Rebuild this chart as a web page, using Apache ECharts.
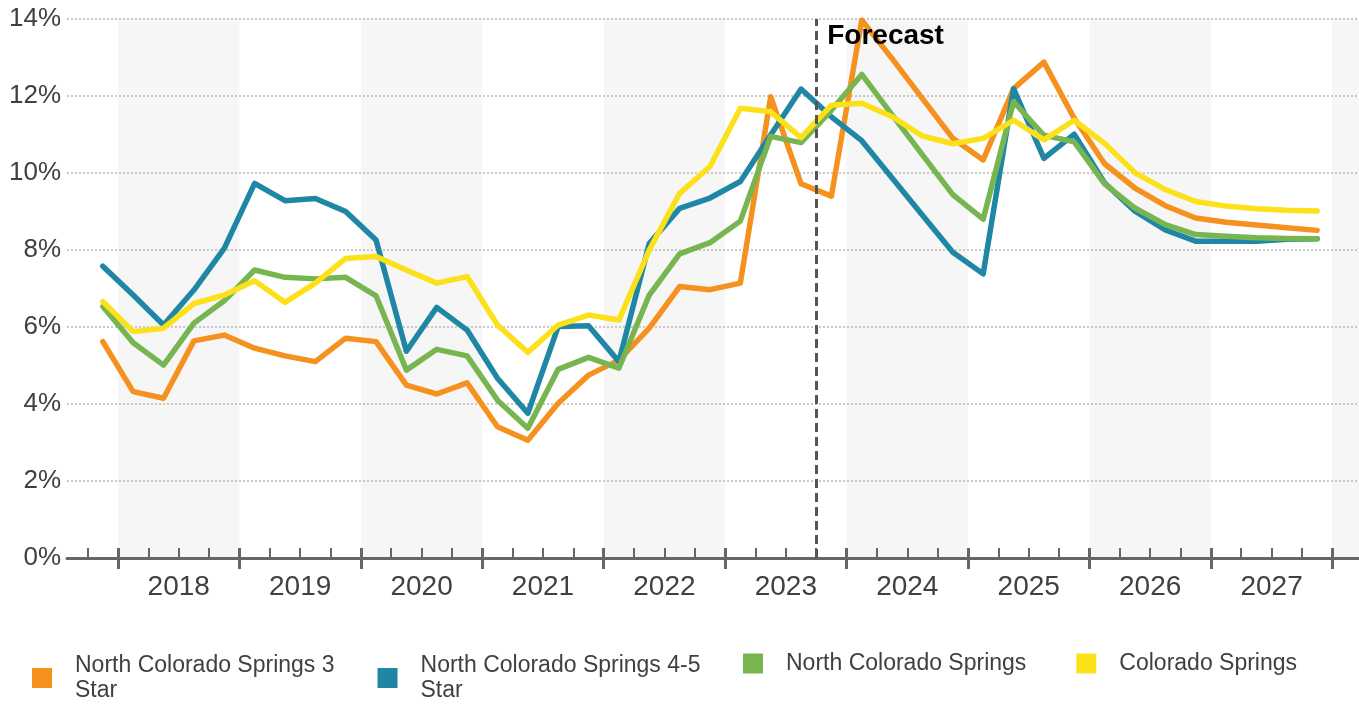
<!DOCTYPE html>
<html>
<head>
<meta charset="utf-8">
<title>Vacancy rate — Colorado Springs</title>
<script src="https://cdn.jsdelivr.net/npm/echarts@6/dist/echarts.min.js"></script>
<style>
  html, body { margin: 0; padding: 0; background: #ffffff; }
  #chart { width: 1359px; height: 704px; }
</style>
</head>
<body>
<div id="chart"></div>
<script>
// Quarterly periods, 2017 Q4 through 2027 Q4
const quarters = [
  '2017 Q4',
  '2018 Q1', '2018 Q2', '2018 Q3', '2018 Q4',
  '2019 Q1', '2019 Q2', '2019 Q3', '2019 Q4',
  '2020 Q1', '2020 Q2', '2020 Q3', '2020 Q4',
  '2021 Q1', '2021 Q2', '2021 Q3', '2021 Q4',
  '2022 Q1', '2022 Q2', '2022 Q3', '2022 Q4',
  '2023 Q1', '2023 Q2', '2023 Q3', '2023 Q4',
  '2024 Q1', '2024 Q2', '2024 Q3', '2024 Q4',
  '2025 Q1', '2025 Q2', '2025 Q3', '2025 Q4',
  '2026 Q1', '2026 Q2', '2026 Q3', '2026 Q4',
  '2027 Q1', '2027 Q2', '2027 Q3', '2027 Q4'
];

// Vacancy rates, percent
const northCS3Star = [
  5.62,
  4.32, 4.15, 5.64, 5.79,
  5.45, 5.25, 5.10, 5.71,
  5.62, 4.49, 4.26, 4.55,
  3.41, 3.06, 4.02, 4.75,
  5.14, 5.97, 7.05, 6.97,
  7.14, 11.98, 9.72, 9.40,
  13.97, 12.97, 11.93, 10.90,
  10.34, 12.19, 12.88, 11.42,
  10.24, 9.61, 9.15, 8.83,
  8.72, 8.65, 8.58, 8.51
];
const northCS45Star = [
  7.58,
  6.83, 6.05, 6.96, 8.04,
  9.73, 9.28, 9.34, 9.00,
  8.26, 5.37, 6.51, 5.92,
  4.67, 3.76, 6.01, 6.03,
  5.10, 8.17, 9.08, 9.35,
  9.78, 10.99, 12.18, 11.46,
  10.84, 9.87, 8.90, 7.94,
  7.38, 12.19, 10.38, 11.01,
  9.74, 9.01, 8.52, 8.23,
  8.23, 8.23, 8.28, 8.29
];
const northCS = [
  6.53,
  5.59, 5.01, 6.10, 6.68,
  7.48, 7.29, 7.25, 7.29,
  6.81, 4.88, 5.42, 5.25,
  4.10, 3.37, 4.90, 5.21,
  4.93, 6.83, 7.90, 8.19,
  8.75, 10.95, 10.79, 11.63,
  12.56, 11.51, 10.47, 9.44,
  8.80, 11.85, 10.98, 10.81,
  9.72, 9.09, 8.66, 8.40,
  8.36, 8.32, 8.30, 8.29
];
const coloradoSprings = [
  6.66,
  5.88, 5.97, 6.61, 6.83,
  7.20, 6.64, 7.14, 7.78,
  7.83, 7.48, 7.14, 7.31,
  6.05, 5.34, 6.05, 6.31,
  6.18, 8.00, 9.47, 10.17,
  11.68, 11.59, 10.92, 11.76,
  11.81, 11.46, 10.96, 10.76,
  10.90, 11.37, 10.86, 11.37,
  10.77, 10.01, 9.57, 9.26,
  9.14, 9.07, 9.03, 9.01
];

const seriesNames = [
  'North Colorado Springs 3 Star',
  'North Colorado Springs 4-5 Star',
  'North Colorado Springs',
  'Colorado Springs'
];
const seriesColors = ['#F5911E', '#1F87A5', '#77B550', '#FCE01A'];

const yearLabels = ['2018', '2019', '2020', '2021', '2022', '2023', '2024', '2025', '2026', '2027'];
const shadedYears = [2018, 2020, 2022, 2024, 2026, 2028];
const forecastStart = 2023.75;   // boundary between 2023 Q3 and 2023 Q4
const forecastLabel = 'Forecast';

// Horizontal extent of the time axis, in years
const xMin = 2017.58;
const xMax = 2028.22;

// Position of a quarter at its midpoint on the time axis
function quarterX(q) {
  const parts = q.split(' Q');
  return Number(parts[0]) + (Number(parts[1]) - 0.5) / 4;
}

// Quarter boundaries (minor ticks) and year boundaries (major ticks)
const quarterBounds = [];
for (let v = 2017.75; v <= 2028.001; v += 0.25) quarterBounds.push(Math.round(v * 100) / 100);
const yearBounds = yearLabels.map(Number).concat([2028]);
const yearCenters = yearLabels.map(y => Number(y) + 0.5);

const FONT = '"Liberation Sans", Arial, sans-serif';
const TEXT = '#404040';
const AXIS = '#666666';

function lineSeries(name, values, color) {
  return {
    name: name,
    type: 'line',
    xAxisIndex: 0,
    data: quarters.map((q, i) => [quarterX(q), values[i]]),
    showSymbol: false,
    symbol: 'circle',
    color: color,
    itemStyle: { color: color },
    lineStyle: { color: color, width: 5.5, cap: 'round', join: 'round' },
    emphasis: { disabled: true },
    silent: true,
    z: 3
  };
}

const baseX = {
  type: 'value',
  position: 'bottom',
  min: xMin,
  max: xMax,
  splitLine: { show: false },
  z: 2.5
};

const option = {
  animation: false,
  grid: { left: 67, right: 0, top: 19, bottom: 146, containLabel: false },
  xAxis: [
    Object.assign({}, baseX, {
      axisLine: { show: true, onZero: false, lineStyle: { color: AXIS, width: 3 } },
      axisTick: { show: true, inside: true, length: 10, customValues: quarterBounds,
                  lineStyle: { color: AXIS, width: 2 } },
      axisLabel: { show: true, customValues: yearCenters, margin: 15,
                   formatter: v => String(Math.floor(v)),
                   fontSize: 28, color: TEXT, fontFamily: FONT }
    }),
    Object.assign({}, baseX, {
      axisLine: { show: false },
      axisTick: { show: true, inside: false, length: 11, customValues: yearBounds,
                  lineStyle: { color: AXIS, width: 3 } },
      axisLabel: { show: false }
    }),
    Object.assign({}, baseX, {
      axisLine: { show: false },
      axisTick: { show: true, inside: true, length: 10, customValues: yearBounds,
                  lineStyle: { color: AXIS, width: 3 } },
      axisLabel: { show: false }
    })
  ],
  yAxis: {
    type: 'value',
    min: 0,
    max: 14,
    interval: 2,
    axisLine: { show: false },
    axisTick: { show: false },
    axisLabel: { formatter: v => v + '%', fontSize: 26, color: TEXT, fontFamily: FONT, margin: 6 },
    splitLine: { show: true, lineStyle: { color: '#b8b8b8', width: 1.5, type: [2, 2] } },
    z: 2.5
  },
  legend: [
    {
      data: seriesNames.slice(0, 2),
      left: 32, top: 653, padding: 0,
      orient: 'horizontal',
      icon: 'rect', itemWidth: 20, itemHeight: 20, itemGap: 43,
      selectedMode: false,
      formatter: name => name.replace(' Star', '\nStar'),
      textStyle: { fontSize: 23, lineHeight: 25, color: TEXT, fontFamily: FONT, padding: [0, 0, 0, 18] }
    },
    {
      data: seriesNames.slice(2),
      left: 743, top: 651, padding: 0,
      orient: 'horizontal',
      icon: 'rect', itemWidth: 20, itemHeight: 20, itemGap: 50,
      selectedMode: false,
      textStyle: { fontSize: 23, lineHeight: 25, color: TEXT, fontFamily: FONT, padding: [0, 0, 0, 18] }
    }
  ],
  series: [
    // alternating year bands behind everything
    {
      type: 'line',
      name: 'bands',
      data: [],
      silent: true,
      z: 1,
      markArea: {
        silent: true,
        z: 1,
        itemStyle: { color: '#F6F6F6' },
        label: { show: false },
        data: shadedYears.map(y => [{ xAxis: y }, { xAxis: Math.min(y + 1, xMax) }])
      }
    },
    lineSeries(seriesNames[0], northCS3Star, seriesColors[0]),
    lineSeries(seriesNames[1], northCS45Star, seriesColors[1]),
    lineSeries(seriesNames[2], northCS, seriesColors[2]),
    Object.assign(lineSeries(seriesNames[3], coloradoSprings, seriesColors[3]), {
      markLine: {
        silent: true,
        z: 6,
        symbol: ['none', 'none'],
        label: { show: false },
        lineStyle: { color: '#555555', width: 3, type: [9, 5] },
        data: [{ xAxis: forecastStart }]
      },
      markPoint: {
        silent: true,
        z: 6,
        symbol: 'circle',
        symbolSize: 0,
        label: {
          show: true,
          position: [11, 3],
          formatter: forecastLabel,
          fontSize: 28,
          fontWeight: 'bold',
          color: '#000000',
          fontFamily: FONT
        },
        data: [{ coord: [forecastStart, 14] }]
      }
    })
  ]
};

const chart = echarts.init(document.getElementById('chart'), null, { renderer: 'canvas' });
chart.setOption(option);
</script>
</body>
</html>
